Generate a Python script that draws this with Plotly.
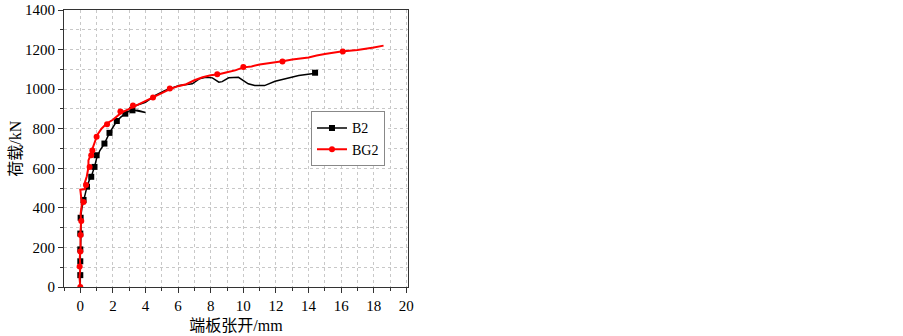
import plotly.graph_objects as go

# B2 (black) curve
b2_x = [0, 0.0, 0.02, 0.0, 0.05, 0.02, 0.1, 0.2, 0.3, 0.41, 0.55, 0.67, 0.87, 1.0, 1.2, 1.48, 1.79, 2.0, 2.24, 2.5,
        2.76, 3.0, 3.5, 4.0, 3.3, 3.0, 3.5, 4.0, 4.6, 5.2, 6.06, 6.5, 6.87, 7.3, 7.7, 8.1, 8.3, 8.5, 8.7, 9.1,
        9.7, 10.0, 10.3, 10.7, 11.3, 11.95, 12.76, 13.4, 14.2, 14.55]
b2_y = [0, 60, 130, 190, 270, 350, 400, 440, 480, 507, 540, 557, 607, 650, 690, 725, 779, 810, 839, 860,
        876, 890, 893, 882, 893, 903, 920, 934, 968, 993, 1018, 1025, 1027, 1052, 1060, 1057, 1045, 1035, 1038, 1057,
        1060, 1045, 1027, 1018, 1018, 1040, 1057, 1069, 1078, 1080]
b2_mx = [0.0, 0.0, 0.0, 0.0, 0.02, 0.2, 0.41, 0.67, 0.87, 1.0, 1.48, 1.79, 2.24, 2.76, 3.2, 14.4]
b2_my = [60, 130, 190, 270, 350, 440, 507, 557, 607, 666, 725, 779, 839, 876, 893, 1083]

# BG2 (red) curve
bg2_x = [0, -0.05, 0.0, -0.03, 0.02, 0.0, 0.05, 0.02, 0.1, 0.05, 0.0, 0.3, 0.25, 0.4, 0.5, 0.5, 0.65, 0.75, 0.9,
         1.05, 1.3, 1.6, 2.0, 2.5, 3.0, 3.5, 4.0, 4.5, 5.0, 5.5, 6.0, 6.5, 7.0, 7.5, 8.0, 8.5, 9.0, 9.5, 10.0,
         10.5, 11.0, 12.0, 12.5, 13.0, 14.0, 14.5, 15.0, 16.0, 17.0, 18.0, 18.6]
bg2_y = [0, 50, 100, 150, 200, 265, 330, 370, 420, 470, 492, 495, 520, 560, 605, 640, 670, 700, 740,
         770, 800, 825, 845, 880, 900, 920, 940, 960, 980, 1000, 1015, 1025, 1045, 1060, 1070, 1075, 1085, 1095, 1110,
         1115, 1125, 1135, 1142, 1150, 1160, 1170, 1178, 1190, 1198, 1210, 1220]
bg2_mx = [0.0, -0.04, 0.0, 0.02, 0.06, 0.2, 0.35, 0.57, 0.67, 0.74, 1.0, 1.64, 2.46, 3.23, 4.46, 5.49, 8.4, 10.0, 12.4, 16.1]
bg2_my = [0, 104, 180, 263, 334, 430, 515, 607, 666, 690, 759, 823, 887, 917, 958, 1003, 1075, 1112, 1140, 1190]

x_ticks = [0, 2, 4, 6, 8, 10, 12, 14, 16, 18, 20]
y_ticks = [0, 200, 400, 600, 800, 1000, 1200, 1400]

FONT = "Liberation Serif, Times New Roman, Noto Sans CJK SC, serif"

fig = go.Figure()
series = [
    ("B2", b2_x, b2_y, b2_mx, b2_my, "black", "square", 1.5),
    ("BG2", bg2_x, bg2_y, bg2_mx, bg2_my, "#ff0000", "circle", 2),
]
for name, lx, ly, mx, my, col, sym, lw in series:
    fig.add_trace(go.Scatter(x=lx, y=ly, mode="lines", line=dict(color=col, width=lw),
                             showlegend=False, hoverinfo="skip"))
    fig.add_trace(go.Scatter(x=mx, y=my, mode="markers",
                             marker=dict(color=col, symbol=sym, size=6),
                             showlegend=False))
    fig.add_trace(go.Scatter(x=[None], y=[None], mode="lines+markers", name=name,
                             line=dict(color=col, width=lw),
                             marker=dict(color=col, symbol=sym, size=6)))

axis_common = dict(
    showline=True, linecolor="#333", linewidth=1, mirror=True,
    ticks="outside", ticklen=5, tickcolor="#333", tickwidth=1,
    showgrid=True, gridcolor="#c8c8c8", griddash="dot", gridwidth=1,
    zeroline=False, automargin=False,
    tickfont=dict(family=FONT, size=15, color="black"),
)

fig.update_xaxes(
    range=[-1, 20.1], tickvals=x_ticks, ticktext=[str(v) for v in x_ticks],
    minor=dict(dtick=1, tick0=0, ticks="outside", ticklen=3, tickcolor="#333",
               showgrid=True, gridcolor="#c8c8c8", griddash="dot"),
    title=dict(text="端板张开/mm", font=dict(family=FONT, size=16, color="black"), standoff=6),
    **axis_common,
)
fig.update_yaxes(
    range=[0, 1400], tickvals=y_ticks, ticktext=[str(v) for v in y_ticks],
    minor=dict(dtick=100, tick0=0, ticks="outside", ticklen=3, tickcolor="#333",
               showgrid=True, gridcolor="#c8c8c8", griddash="dot"),
    **axis_common,
)

# y-axis title placed as a rotated annotation for precise positioning
fig.add_annotation(text="荷载/kN", xref="paper", yref="paper", x=-0.142, y=0.5,
                   xanchor="center", yanchor="middle", textangle=-90, showarrow=False,
                   font=dict(family=FONT, size=16, color="black"))

fig.update_layout(
    width=903, height=336,
    margin=dict(l=64, r=495, t=10, b=49),
    plot_bgcolor="white", paper_bgcolor="white",
    font=dict(family=FONT, size=15, color="black"),
    legend=dict(x=0.718, y=0.634, xanchor="left", yanchor="top",
                bordercolor="#888", borderwidth=1, bgcolor="white",
                font=dict(family=FONT, size=14, color="black"),
                tracegroupgap=0, itemwidth=30),
)

# remove the page's default body margin so the figure sits at the window's top-left corner
fig.write_html("out.html", config={"displayModeBar": False},
               post_script="document.body.style.margin='0';")
